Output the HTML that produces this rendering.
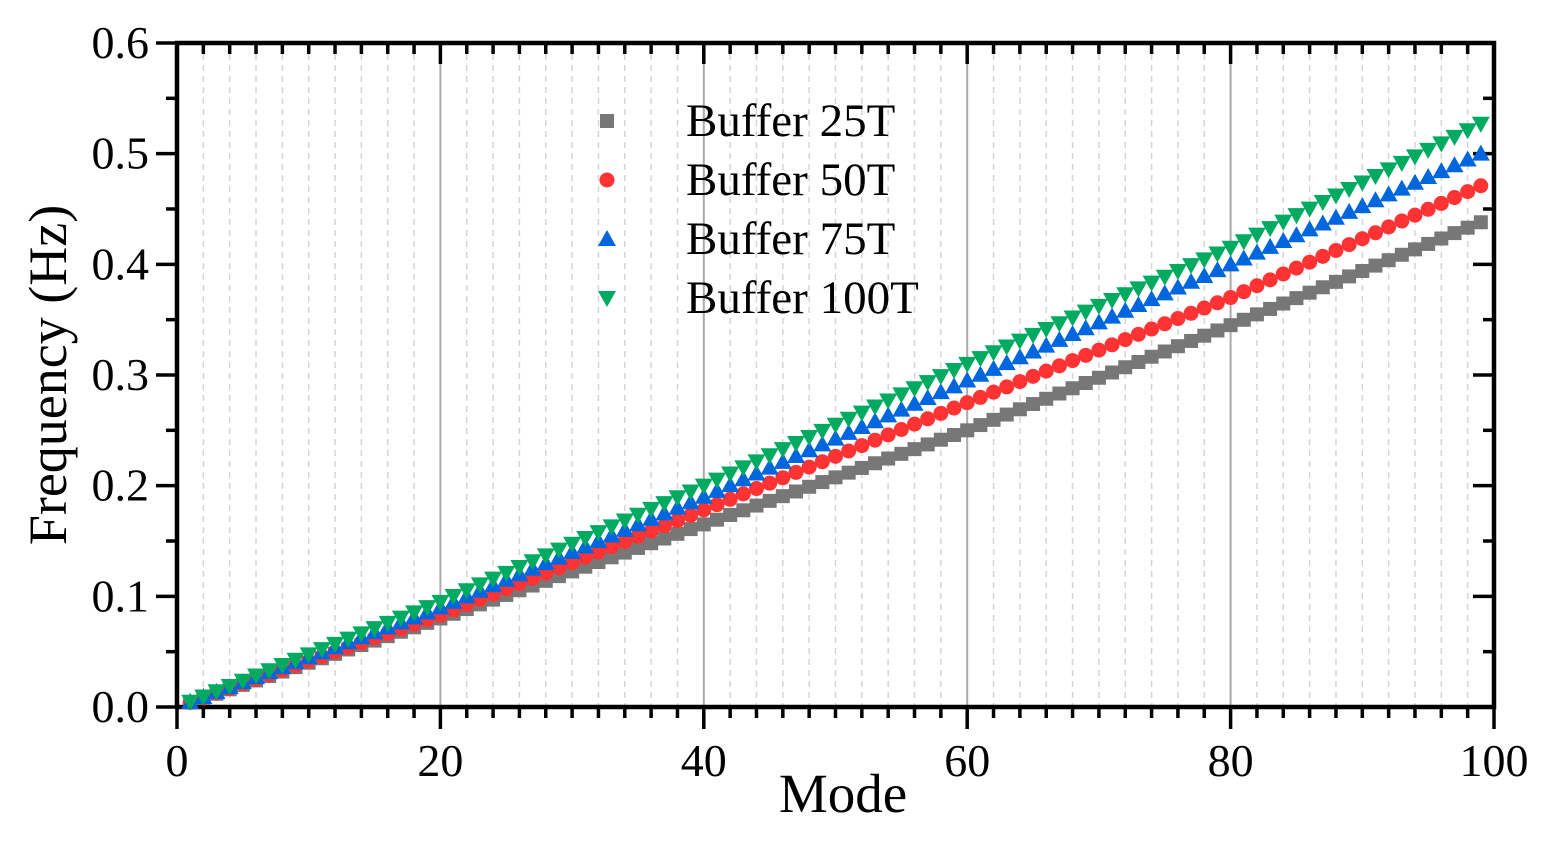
<!DOCTYPE html><html><head><style>body{margin:0;background:#fff}svg{display:block}</style></head><body>
<svg id="s" width="1554" height="843" xmlns="http://www.w3.org/2000/svg" font-family="Liberation Serif, serif"></svg>
<script>
const s=document.getElementById('s');let h='';
const X=v=>177+v*13.17,Y=v=>707-v*1106.7;
for(let m=2;m<100;m+=2){const x=X(m);if(m%20==0)h+=`<line x1="${x}" y1="43" x2="${x}" y2="707" stroke="#aaa" stroke-width="2"/>`;else h+=`<line x1="${x}" y1="43" x2="${x}" y2="707" stroke="#d4d4d4" stroke-width="1.5" stroke-dasharray="6,5"/>`;}
for(let m=0;m<=100;m+=2){const x=X(m),maj=m%20==0;h+=`<line x1="${x}" y1="707" x2="${x}" y2="${maj?729:718}" stroke="#000" stroke-width="3.5"/><line x1="${x}" y1="43" x2="${x}" y2="${maj?64:54}" stroke="#000" stroke-width="3.5"/>`;if(maj)h+=`<text x="${x}" y="776" font-size="46" text-anchor="middle">${m}</text>`;}
for(let i=0;i<=12;i++){const v=i*0.05,y=Y(v),maj=i%2==0;h+=`<line x1="${maj?156:166}" y1="${y}" x2="177" y2="${y}" stroke="#000" stroke-width="3.5"/><line x1="1494" y1="${y}" x2="${maj?1473:1483}" y2="${y}" stroke="#000" stroke-width="3.5"/>`;if(maj)h+=`<text x="149" y="${y+15}" font-size="46" text-anchor="end">${v.toFixed(1)}</text>`;}
h+=`<rect x="177" y="43" width="1317" height="664" fill="none" stroke="#000" stroke-width="4.5"/>`;
const K=[0,20,40,60,80,99];
const D=[[0,0.08,0.165,0.25,0.345,0.438],[0,0.083,0.178,0.275,0.37,0.471],[0,0.09,0.19,0.295,0.40,0.500],[0,0.095,0.2,0.31,0.415,0.527]];
const f=(d,m)=>{for(let i=0;i<5;i++)if(m<=K[i+1])return d[i]+(d[i+1]-d[i])*(m-K[i])/(K[i+1]-K[i]);};
const mk=(t,x,y)=>t==0?`<rect x="${x-7}" y="${y-7}" width="14" height="14" fill="#777"/>`:t==1?`<circle cx="${x}" cy="${y}" r="7.5" fill="#f33"/>`:t==2?`<polygon points="${x},${y-9} ${x-9},${y+7} ${x+9},${y+7}" fill="#0066dd"/>`:`<polygon points="${x-9},${y-7} ${x+9},${y-7} ${x},${y+9}" fill="#00aa60"/>`;
for(let t=0;t<4;t++)for(let m=1;m<=99;m++)h+=mk(t,X(m),Y(f(D[t],m)));
const L=['Buffer 25T','Buffer 50T','Buffer 75T','Buffer 100T'];
for(let t=0;t<4;t++){const y=121+t*59;h+=mk(t,607,y)+`<text x="686" y="${y+15}" font-size="47">${L[t]}</text>`;}
h+=`<text x="843" y="812" font-size="55" text-anchor="middle">Mode</text><text transform="translate(66,375) rotate(-90)" font-size="54" text-anchor="middle">Frequency (Hz)</text>`;
s.innerHTML=h;
</script></body></html>
